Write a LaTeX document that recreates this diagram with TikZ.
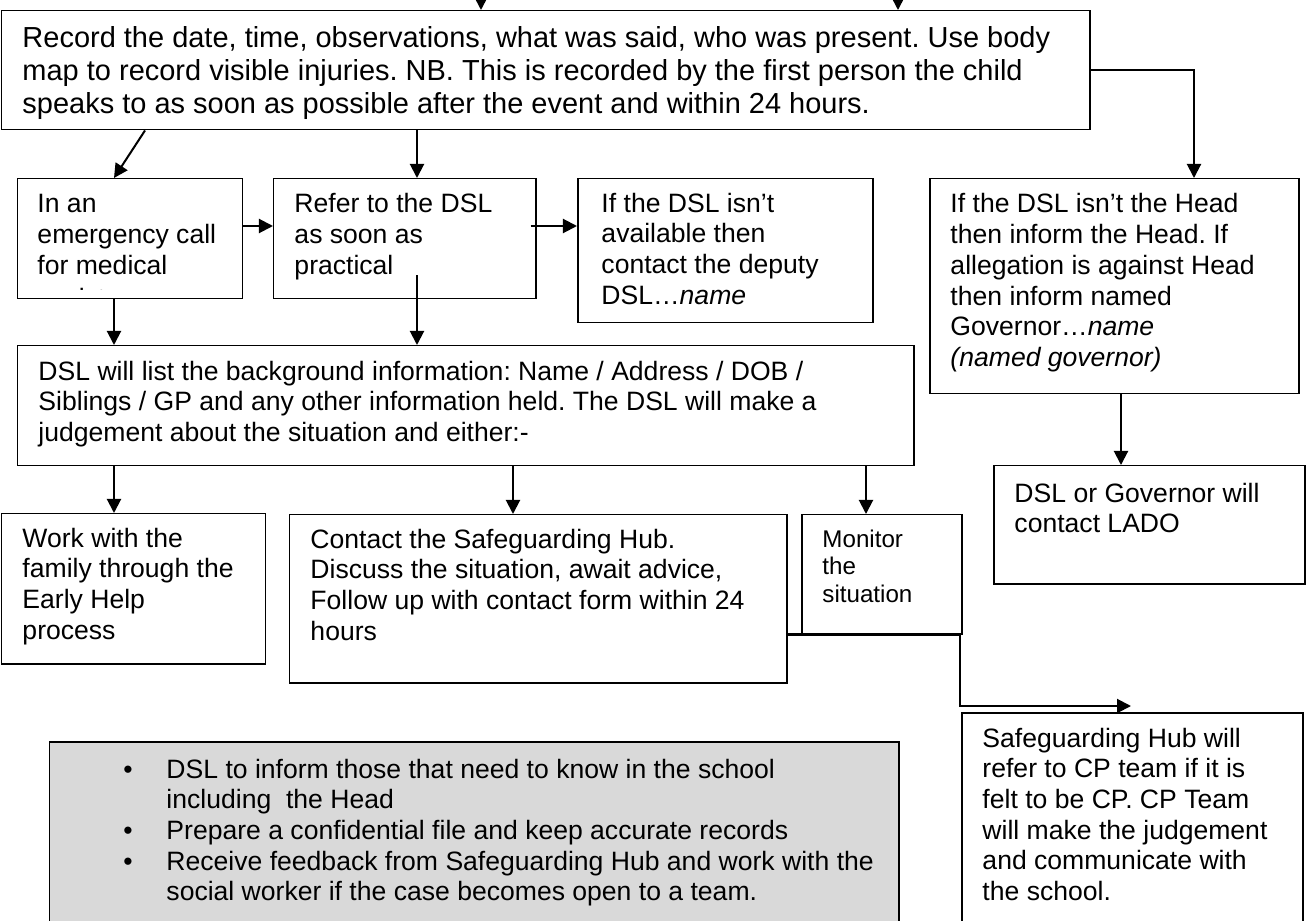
\documentclass[tikz,border=0pt]{standalone}
\usepackage{fontspec}
\setmainfont{Liberation Sans}
\usetikzlibrary{arrows.meta,calc}
\frenchspacing
\newdimen\pxu \pxu=0.41408pt
\definecolor{boxgray}{RGB}{217,217,217}
\newcommand{\fsA}{\fontsize{12pt}{13.5pt}\selectfont}
\newcommand{\fsB}{\fontsize{11pt}{12.7pt}\selectfont}
\newcommand{\fsC}{\fontsize{10pt}{11.5pt}\selectfont}
\newcommand{\tbox}[2]{\parbox[t]{#1\pxu}{#2}}
\newcommand{\PX}[1]{#1*0.41408pt}
\tikzset{
  box/.style={draw=black, line width=0.62pt, inner sep=0pt, anchor=north west, rectangle},
  txt/.style={anchor=base west, inner sep=0pt, align=left},
  arr/.style={line width=0.83pt, -{Triangle[length=5.8pt, width=5.8pt]}},
}
\begin{document}
\begin{tikzpicture}[x=0.41408pt, y=-0.41408pt]
\clip (0,0) rectangle (1311,921);
\useasboundingbox (0,0) rectangle (1311,921);

% boxes
\node[box, minimum width=\PX{1088}, minimum height=\PX{119}] (A)  at (1,10) {};
\node[box, minimum width=\PX{225},  minimum height=\PX{120}] (B1) at (17,178) {};
\node[box, minimum width=\PX{262},  minimum height=\PX{120}] (B2) at (273,178) {};
\node[box, minimum width=\PX{295},  minimum height=\PX{144}] (B3) at (577,178) {};
\node[box, minimum width=\PX{369},  minimum height=\PX{215}] (G)  at (929,178) {};
\node[box, minimum width=\PX{896},  minimum height=\PX{120}] (C)  at (17,345) {};
\node[box, minimum width=\PX{311},  minimum height=\PX{118}] (H)  at (993,465) {};
\node[box, minimum width=\PX{264},  minimum height=\PX{150}] (D1) at (1,513) {};
\node[box, minimum width=\PX{497},  minimum height=\PX{168}] (D2) at (289,514) {};
\node[box, minimum width=\PX{160},  minimum height=\PX{119}] (D3) at (801,514) {};
\node[box, minimum width=\PX{341},  minimum height=\PX{220}] (SH) at (961,712) {};
\node[box, fill=boxgray, minimum width=\PX{849}, minimum height=\PX{200}] (N) at (49,741) {};

% texts
\node[txt] (At) at (22,48) {\tbox{1100}{\fsA Record the date, time, observations, what was said, who was present. Use body\\map to record visible injuries. NB. This is recorded by the first person the child\\speaks to as soon as possible after the event and within 24 hours.}};
\node[txt] (B1t) at (37,213) {\tbox{200}{\fsB In an\\emergency call\\for medical}};
\begin{scope}
  \clip (17,178) rectangle (242,289);
  \node[txt] (B1x) at (37,307) {\fsB assistance};
\end{scope}
\node[txt] (B2t) at (294,213) {\tbox{240}{\fsB Refer to the DSL\\as soon as\\practical}};
\node[txt] (B3t) at (601,212) {\tbox{270}{\fsB If the DSL isn’t\\available then\\contact the deputy\\DSL…\textit{name}}};
\node[txt] (Gt) at (950,213) {\tbox{340}{\fsB If the DSL isn’t the Head\\then inform the Head. If\\allegation is against Head\\then inform named\\Governor…\textit{name}\\\textit{(named governor)}}};
\node[txt] (Ct) at (38,380) {\tbox{880}{\fsB DSL will list the background information: Name / Address / DOB /\\Siblings / GP and any other information held. The DSL will make a\\judgement about the situation and either:-}};
\node[txt] (Ht) at (1014,502) {\tbox{290}{\fsB DSL or Governor will\\contact LADO}};
\node[txt] (D1t) at (22,547) {\tbox{240}{\fsB Work with the\\family through the\\Early Help\\process}};
\node[txt] (D2t) at (310,548) {\tbox{470}{\fsB Contact the Safeguarding Hub.\\Discuss the situation, await advice,\\Follow up with contact form within 24\\hours}};
\node[txt] (D3t) at (822,547) {\tbox{140}{\fsC Monitor\\the\\situation}};
\node[txt] (SHt) at (982,747) {\tbox{320}{\fsB Safeguarding Hub will\\refer to CP team if it is\\felt to be CP. CP Team\\will make the judgement\\and communicate with\\the school.}};
\node[txt] (Nt) at (123,778) {\tbox{770}{\fsB
\makebox[43\pxu][l]{•}DSL to inform those that need to know in the school\\
\hspace*{43\pxu}including~ the Head\\
\makebox[43\pxu][l]{•}Prepare a confidential file and keep accurate records\\
\makebox[43\pxu][l]{•}Receive feedback from Safeguarding Hub and work with the\\
\hspace*{43\pxu}social worker if the case becomes open to a team.}};

% connectors
\coordinate (t1) at (481,0);
\coordinate (t2) at (898,0);
\draw[arr] (t1) -- (t1 |- A.north);
\draw[arr] (t2) -- (t2 |- A.north);
\draw[arr] ([shift={(144,0)}]A.south west) -- ([shift={(97,0)}]B1.north west);
\draw[arr] ([shift={(416,0)}]A.south west) -- ([shift={(144,0)}]B2.north west);
\draw[arr] (A.east) -| ([shift={(265,0)}]G.north west);
\draw[arr] ([shift={(0,48)}]B1.north east) -- ([shift={(0,48)}]B2.north west);
\draw[arr] ([shift={(-6,48)}]B2.north east) -- ([shift={(0,48)}]B3.north west);
\coordinate (b1s) at ([shift={(97,0)}]B1.south west);
\coordinate (b2s) at ([shift={(144,-24)}]B2.south west);
\draw[arr] (b1s) -- (b1s |- C.north);
\draw[arr] (b2s) -- (b2s |- C.north);
\coordinate (d2n) at ([shift={(224,0)}]D2.north west);
\coordinate (d3n) at ([shift={(65,0)}]D3.north west);
\coordinate (hn) at ([shift={(128,0)}]H.north west);
\draw[arr] (C.south -| b1s) -- (b1s |- D1.north);
\draw[arr] (C.south -| d2n) -- (d2n);
\draw[arr] (C.south -| d3n) -- (d3n);
\draw[arr] (G.south -| hn) -- (hn);
\coordinate (shn) at ([shift={(170,-6)}]SH.north west);
\draw[arr] (D3.south west -| D2.east) -- ([shift={(-3,0)}]D3.south east) |- (shn);
\end{tikzpicture}
\end{document}
